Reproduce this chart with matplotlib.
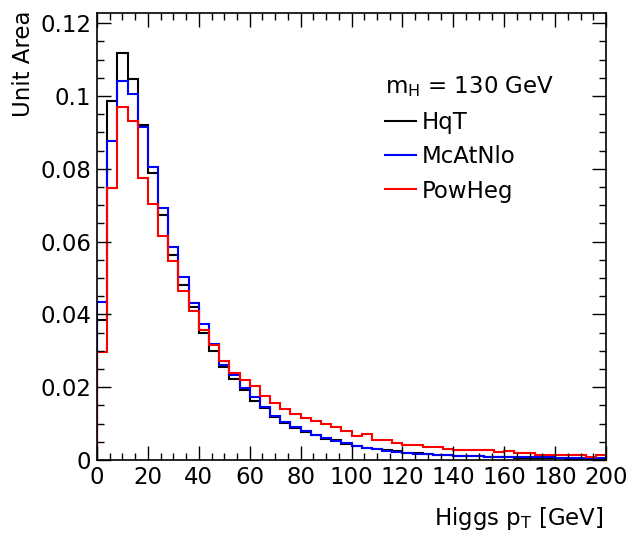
# Higgs pT spectra, mH = 130 GeV, three generators normalised to unit area
import numpy as np
import matplotlib
matplotlib.use('Agg')
import matplotlib.pyplot as plt
from matplotlib.ticker import MultipleLocator
from matplotlib.lines import Line2D

# 50 bins of 4 GeV from 0 to 200
edges = np.arange(0, 204, 4)

hqt = [0.0385, 0.0987, 0.1117, 0.1046, 0.0919, 0.0789, 0.0673, 0.0563, 0.0481, 0.0420,
       0.0350, 0.0300, 0.0256, 0.0222, 0.0192, 0.0163, 0.0142, 0.0119, 0.0103, 0.0089,
       0.0078, 0.0068, 0.0059, 0.0054, 0.0045, 0.0039, 0.0034, 0.0029, 0.0028, 0.0024,
       0.0020, 0.0018, 0.0016, 0.0014, 0.0013, 0.0011, 0.0010, 0.0010, 0.0009, 0.0009,
       0.0007, 0.0006, 0.0006, 0.0005, 0.0005, 0.0005, 0.0004, 0.0004, 0.0004, 0.0004]

mcatnlo = [0.0435, 0.0876, 0.1041, 0.1006, 0.0916, 0.0804, 0.0691, 0.0586, 0.0504, 0.0430,
           0.0374, 0.0318, 0.0261, 0.0234, 0.0198, 0.0172, 0.0146, 0.0121, 0.0105, 0.0091,
           0.0080, 0.0070, 0.0061, 0.0053, 0.0046, 0.0039, 0.0034, 0.0029, 0.0024, 0.0022,
           0.0018, 0.0017, 0.0016, 0.0015, 0.0014, 0.0012, 0.0011, 0.0010, 0.0009, 0.0009,
           0.0008, 0.0008, 0.0007, 0.0007, 0.0007, 0.0006, 0.0006, 0.0006, 0.0005, 0.0005]

powheg = [0.0298, 0.0748, 0.0971, 0.0932, 0.0776, 0.0703, 0.0615, 0.0547, 0.0464, 0.0409,
          0.0357, 0.0316, 0.0272, 0.0240, 0.0220, 0.0203, 0.0176, 0.0156, 0.0140, 0.0126,
          0.0114, 0.0108, 0.0099, 0.0090, 0.0080, 0.0066, 0.0071, 0.0055, 0.0055, 0.0046,
          0.0041, 0.0041, 0.0037, 0.0037, 0.0031, 0.0028, 0.0027, 0.0027, 0.0027, 0.0022,
          0.0025, 0.0020, 0.0020, 0.0015, 0.0014, 0.0014, 0.0014, 0.0014, 0.0009, 0.0014]

names = ['HqT', 'McAtNlo', 'PowHeg']
colors = ['black', 'blue', 'red']

yticks = [0, 0.02, 0.04, 0.06, 0.08, 0.1, 0.12]
ytick_labels = ['0', '0.02', '0.04', '0.06', '0.08', '0.1', '0.12']

fs = 16.5
fig = plt.figure(figsize=(6.3, 5.37), dpi=100)
ax = fig.add_axes([0.154, 0.1434, 0.808, 0.8324])

for vals, name, col in zip([hqt, mcatnlo, powheg], names, colors):
    ax.stairs(vals, edges, color=col, linewidth=1.5, label=name)

ax.set_xlim(0, 200)
ax.set_ylim(0, 0.1228)
ax.set_xticks(np.arange(0, 201, 20))
ax.xaxis.set_minor_locator(MultipleLocator(5))
ax.set_yticks(yticks)
ax.set_yticklabels(ytick_labels)
ax.yaxis.set_minor_locator(MultipleLocator(0.005))
ax.tick_params(which='both', direction='in', top=True, right=True, width=1.0,
               labelsize=fs, colors='black')
ax.tick_params(which='major', length=10, pad=4)
ax.tick_params(which='minor', length=5)
for s in ax.spines.values():
    s.set_linewidth(1.2)

ax.set_xlabel('Higgs p$_{\\rm T}$ [GeV]', fontsize=fs, loc='right')
ax.xaxis.set_label_coords(0.995, -0.10)
ax.set_ylabel('Unit Area', fontsize=fs, loc='top')
ax.yaxis.set_label_coords(-0.122, 1.005)

# legend: title line with the mass, then one short line per generator
leg_handles = [Line2D([], [], color=c, linewidth=1.5) for c in colors]
leg = ax.legend(leg_handles, names, title='m$_{\\rm H}$ = 130 GeV', loc='upper left',
                bbox_to_anchor=(0.566, 0.863), frameon=False, fontsize=fs,
                title_fontsize=fs, handlelength=1.35, handletextpad=0.25,
                labelspacing=0.5, borderpad=0, borderaxespad=0, alignment='left')

fig.savefig('out.png', dpi=100)
